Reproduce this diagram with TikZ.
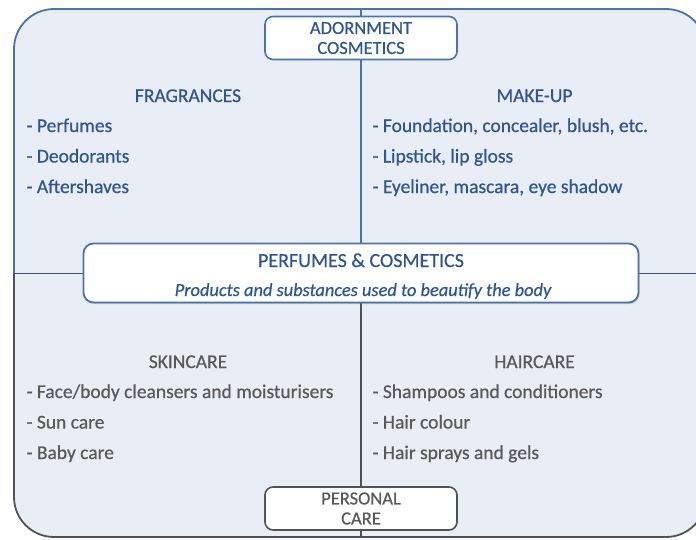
\documentclass[tikz,border=0pt]{standalone}
\usepackage{fontspec}
\setmainfont[FakeBold=0.6]{Carlito}
\usetikzlibrary{shadows}
\definecolor{panelbg}{HTML}{E9EEF6}
\definecolor{edgeblue}{HTML}{4A72B2}
\definecolor{edgegrey}{HTML}{4F5358}
\definecolor{axisline}{HTML}{44546A}
\definecolor{txtblue}{HTML}{2F5597}
\definecolor{txtgrey}{HTML}{595959}
\tikzset{
  heading/.style={anchor=base, font=\fontsize{19.5}{20}\selectfont},
  item/.style={anchor=base west, font=\fontsize{19.5}{20}\selectfont},
  tagbox/.style={draw, line width=1.6pt, rounded corners=8pt, fill=white,
    minimum width=192pt, minimum height=43pt, align=center, inner sep=0pt,
    font=\fontsize{18.5}{20}\selectfont},
  hubbox/.style={draw=edgeblue, line width=1.8pt, rounded corners=10pt, fill=white,
    minimum width=555pt, minimum height=59pt, inner sep=0pt,
    drop shadow={opacity=0.35, shadow xshift=1pt, shadow yshift=-1.5pt}},
}
\begin{document}
\begin{tikzpicture}[x=1pt, y=-1pt]
\useasboundingbox (0,0) rectangle (696,539);
\clip (0,0) rectangle (696,539);
% outer frame: background, then blue upper edge and grey lower edge
\fill[panelbg, rounded corners=40pt] (14,9) rectangle (706,537);
\draw[edgeblue, line width=1.8pt, rounded corners=40pt]
  (14,273) -- (14,9) -- (706,9) -- (706,273);
\draw[edgegrey, line width=1.8pt, rounded corners=40pt]
  (14,273) -- (14,537) -- (706,537) -- (706,273);
% axis end points
\coordinate (ttop) at (361,9);
\coordinate (tbot) at (361,537);
\coordinate (lmid) at (14,273.5);
\coordinate (rmid) at (706,273.5);
\coordinate (cmid) at (361,273.5);
% axes
\draw[edgeblue, line width=1.4pt] (ttop) -- (cmid);
\draw[edgegrey, line width=1.4pt] (cmid) -- (tbot);
\draw[axisline, line width=1.6pt] (lmid) -- (rmid);
% boxes
\node[tagbox, draw=edgeblue, text=txtblue] (adorn) at (361,38) {ADORNMENT\\COSMETICS};
\node[tagbox, draw=edgegrey, text=txtgrey] (personal) at (361,508.5) {PERSONAL\\CARE};
\node[hubbox] (hub) at (361,273) {};
\node[anchor=base, text=txtblue, font=\fontsize{20}{20}\selectfont] (hubtitle) at (361,267) {PERFUMES \& COSMETICS};
\node[anchor=base, text=txtblue, font=\fontsize{18.4}{20}\selectfont\itshape] (hubsub) at (363,296) {Products and substances used to beautify the body};
% quadrant headings and lists
\begin{scope}[text=txtblue]
\node[heading] (frag) at (188,102) {FRAGRANCES};
\node[item] (f1) at (23,132) {- Perfumes};
\node[item] (f2) at (23,162.5) {- Deodorants};
\node[item] (f3) at (23,193) {- Aftershaves};
\node[heading] (make) at (534.5,102) {MAKE-UP};
\node[item] (m1) at (369,132) {- Foundation, concealer, blush, etc.};
\node[item] (m2) at (369,162.5) {- Lipstick, lip gloss};
\node[item] (m3) at (369,193) {- Eyeliner, mascara, eye shadow};
\end{scope}
\begin{scope}[text=txtgrey]
\node[heading] (skin) at (188,368) {SKINCARE};
\node[item] (s1) at (23,398) {- Face/body cleansers and moisturisers};
\node[item] (s2) at (23,428.5) {- Sun care};
\node[item] (s3) at (23,459) {- Baby care};
\node[heading] (hair) at (534.5,368) {HAIRCARE};
\node[item] (h1) at (369,398) {- Shampoos and conditioners};
\node[item] (h2) at (369,428.5) {- Hair colour};
\node[item] (h3) at (369,459) {- Hair sprays and gels};
\end{scope}
\end{tikzpicture}
\end{document}
